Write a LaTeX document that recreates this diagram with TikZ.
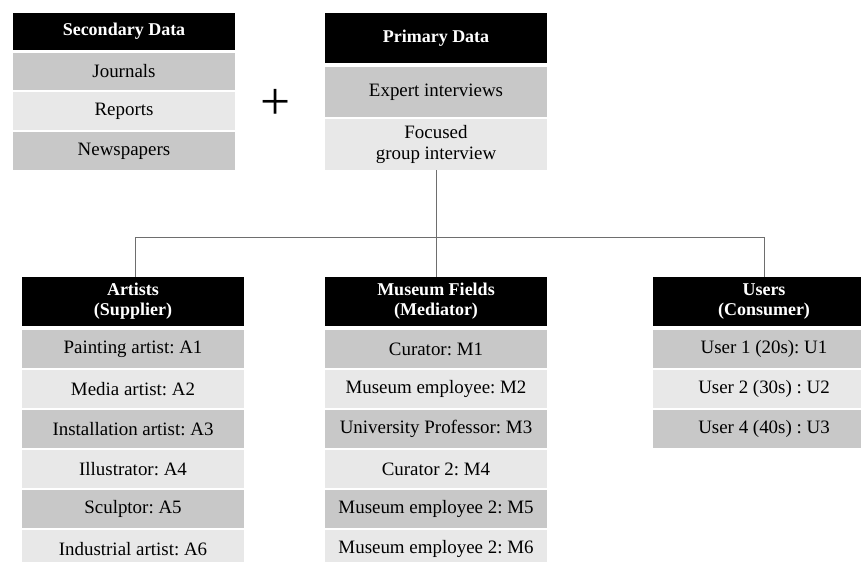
\documentclass[tikz,border=0pt]{standalone}
\usepackage{fontspec}
\setmainfont{Liberation Serif}
\usepackage{tikz}
\frenchspacing

\definecolor{rowdark}{RGB}{200,200,200}
\definecolor{rowlight}{RGB}{232,232,232}
\definecolor{linkgray}{RGB}{110,110,110}

\tikzset{
  cell/.style={minimum width=166.5pt, inner sep=1pt, align=center,
    font=\fontsize{14.2}{15.5}\selectfont},
  headcell/.style={cell, fill=black, text=white,
    font=\fontsize{13.5}{15}\selectfont\bfseries},
  darkcell/.style={cell, fill=rowdark},
  lightcell/.style={cell, fill=rowlight},
  link/.style={draw=linkgray, line width=0.6pt}
}

\begin{document}
\begin{tikzpicture}[x=0.75pt,y=-0.75pt]
          \useasboundingbox (0,0) rectangle (861,561);
          % secondary data
          \node[headcell,minimum height=27.75pt] (sec) at (124,31.5) {Secondary Data};
          \node[darkcell,minimum height=28pt] (journals) at (124,71.5) {Journals};
          \node[lightcell,minimum height=28pt] (reports) at (124,111) {Reports};
          \node[darkcell,minimum height=28pt] (news) at (124,151) {Newspapers};
          \node[font=\fontsize{40}{40}\selectfont] (plus) at (276,104) {+};
          % primary data
          \node[headcell,minimum height=37.5pt] (prim) at (436,38) {Primary Data};
          \node[darkcell,minimum height=37.5pt] (expert) at (436,92) {Expert interviews};
          \node[lightcell,minimum height=38pt] (focus) at (436,144.5) {Focused\\group interview};
          % groups
          \node[headcell,minimum height=36.75pt] (artists) at (133,301.5) {Artists\\(Supplier)};
          \node[darkcell,minimum height=28.5pt] (a1) at (133,349) {Painting artist: A1};
          \node[lightcell,minimum height=28.5pt] (a2) at (133,389) {Media artist: A2};
          \node[darkcell,minimum height=28.5pt] (a3) at (133,429) {Installation artist: A3};
          \node[lightcell,minimum height=28.5pt] (a4) at (133,469) {Illustrator: A4};
          \node[darkcell,minimum height=28.5pt] (a5) at (133,509) {Sculptor: A5};
          \node[lightcell,minimum height=28.5pt] (a6) at (133,549) {Industrial artist: A6};
          \node[headcell,minimum height=36.75pt] (museum) at (436,301.5) {Museum Fields\\(Mediator)};
          \node[darkcell,minimum height=28.5pt] (m1) at (436,349) {Curator: M1};
          \node[lightcell,minimum height=28.5pt] (m2) at (436,389) {Museum employee: M2};
          \node[darkcell,minimum height=28.5pt] (m3) at (436,429) {University Professor: M3};
          \node[lightcell,minimum height=28.5pt] (m4) at (436,469) {Curator 2: M4};
          \node[darkcell,minimum height=28.5pt] (m5) at (436,509) {Museum employee 2: M5};
          \node[lightcell,minimum height=28.5pt] (m6) at (436,549) {Museum employee 2: M6};
          \node[headcell,minimum height=36.75pt] (users) at (764,301.5) {Users\\(Consumer)};
          \node[darkcell,minimum height=28.5pt] (u1) at (764,349) {User 1 (20s): U1};
          \node[lightcell,minimum height=28.5pt] (u2) at (764,389) {User 2 (30s) : U2};
          \node[darkcell,minimum height=28.5pt] (u3) at (764,429) {User 4 (40s) : U3};
          % tree
          \coordinate (hub) at (436,237);
          \draw[link] (focus.south) -- (hub);
          \draw[link] (hub) -| ([xshift=2pt]artists.north);
          \draw[link] (hub) -- (museum.north);
          \draw[link] (hub) -| (users.north);
        \end{tikzpicture}
\end{document}
